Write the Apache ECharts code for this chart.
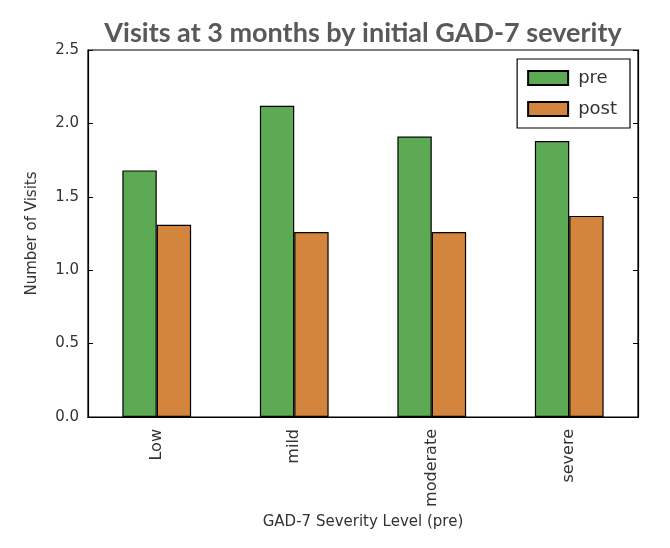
<!DOCTYPE html>
<html><head><meta charset="utf-8">
<script src="https://cdn.jsdelivr.net/npm/echarts@6/dist/echarts.min.js"></script>
<style>html,body{margin:0;padding:0;background:#fff}#c{width:670px;height:548px}</style>
</head><body><div id="c"></div>
<script>
const categories = ['Low', 'mild', 'moderate', 'severe'];
const preValues = [1.68, 2.12, 1.91, 1.88];
const postValues = [1.31, 1.26, 1.26, 1.37];
const yTicks = [0, 0.5, 1.0, 1.5, 2.0, 2.5];

const chart = echarts.init(document.getElementById('c'));
const font = 'DejaVu Sans';
chart.setOption({
  animation: false,
  backgroundColor: '#fff',
  title: {
    text: 'Visits at 3 months by initial GAD-7 severity',
    left: 358, top: 15, textAlign: 'center',
    textStyle: {fontFamily: 'Lato', fontWeight: 'bold', fontSize: 27, color: '#595959'}
  },
  legend: {
    orient: 'vertical', right: 40, top: 59,
    icon: 'rect',
    itemWidth: 40, itemHeight: 14, itemGap: 13,
    padding: [10, 13, 10, 10],
    borderColor: '#000', borderWidth: 1.2, borderRadius: 0,
    textStyle: {fontFamily: font, fontSize: 18, color: '#333', padding: [0, 0, 0, 5]},
    data: ['pre', 'post']
  },
  grid: {left: 88, right: 32, top: 50, bottom: 131, show: true, borderColor: '#000', borderWidth: 1.2},
  xAxis: [{
    type: 'category', data: categories, position: 'bottom',
    name: 'GAD-7 Severity Level (pre)', nameLocation: 'middle', nameGap: 98,
    nameTextStyle: {fontFamily: font, fontSize: 15, color: '#333'},
    axisLine: {lineStyle: {color: '#000', width: 1.2}},
    axisTick: {inside: true, alignWithLabel: true, length: 5, lineStyle: {color: '#000'}},
    axisLabel: {rotate: 90, fontFamily: font, fontSize: 16, color: '#333', margin: 12}
  }, {
    type: 'category', data: categories, position: 'top',
    axisLine: {lineStyle: {color: '#000', width: 1.2}},
    axisTick: {inside: true, alignWithLabel: true, length: 5, lineStyle: {color: '#000'}},
    axisLabel: {show: false}
  }],
  yAxis: [{
    type: 'value', min: 0, max: 2.5, interval: 0.5,
    name: 'Number of Visits', nameLocation: 'middle', nameGap: 48,
    nameTextStyle: {fontFamily: font, fontSize: 15, color: '#333'},
    axisLine: {show: true, lineStyle: {color: '#000', width: 1.2}},
    axisTick: {show: true, inside: true, length: 5, lineStyle: {color: '#000'}},
    splitLine: {show: false},
    axisLabel: {fontFamily: font, fontSize: 15, color: '#333', margin: 9,
      formatter: v => { const t = yTicks.find(x => Math.abs(x - v) < 1e-9); return (t !== undefined ? t : v).toFixed(1); }}
  }, {
    type: 'value', min: 0, max: 2.5, interval: 0.5, position: 'right',
    axisLine: {show: true, lineStyle: {color: '#000', width: 1.2}},
    axisTick: {show: true, inside: true, length: 5, lineStyle: {color: '#000'}},
    splitLine: {show: false}, axisLabel: {show: false}
  }],
  series: [{
    name: 'pre', type: 'bar', data: preValues, barGap: '0%', barCategoryGap: '50%',
    itemStyle: {color: '#5cab54', borderColor: '#000', borderWidth: 1.2}
  }, {
    name: 'post', type: 'bar', data: postValues,
    itemStyle: {color: '#d3843d', borderColor: '#000', borderWidth: 1.2}
  }]
});
</script></body></html>
